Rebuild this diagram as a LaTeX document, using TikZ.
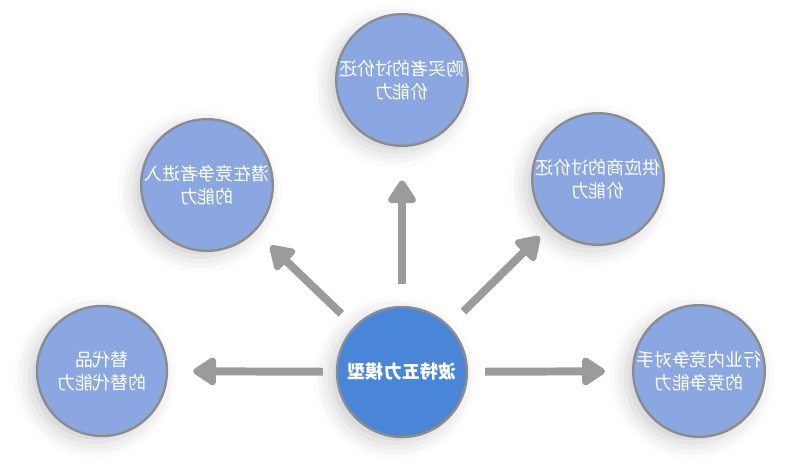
\documentclass[tikz,border=0pt]{standalone}
\usepackage{fontspec}
\newfontfamily\cjk{Noto Sans CJK SC}
\usetikzlibrary{arrows.meta, shadows.blur}

\definecolor{petal}{RGB}{139,167,226}
\definecolor{hub}{RGB}{74,134,216}
\definecolor{rim}{RGB}{140,140,140}
\definecolor{shaft}{RGB}{155,155,155}

\begin{document}
\begin{tikzpicture}[
    x=0.03cm,
    y=-0.03cm,
    force/.style={
        circle, draw=rim, line width=2pt, fill=petal,
        minimum size=3.9cm, inner sep=0pt,
        text=white, align=center, xscale=-1,
        font=\cjk\fontsize{15.3pt}{20pt}\selectfont,
        blur shadow={shadow xshift=-6pt, shadow yshift=-5pt,
                     shadow blur radius=14pt, shadow opacity=20},
    },
    model/.style={force, fill=hub, font=\cjk\bfseries\fontsize{15.5pt}{20pt}\selectfont},
    push/.style={
        draw=shaft, line width=6.8pt,
        -{Triangle[round, length=22pt, width=27pt]},
    },
]

    \useasboundingbox (0,0) rectangle (800,470);

    \node[force] (buyer)      at (402,80)  {购买者的讨价还\\价能力};
    \node[force] (entrant)    at (207,185) {潜在竞争者进入\\的能力};
    \node[force] (supplier)   at (598,179) {供应商的讨价还\\价能力};
    \node[force] (substitute) at (102,371) {替代品\\的替代能力};
    \node[force] (rival)      at (699,371) {行业内竞争对手\\的竞争能力};
    \node[model] (porter)     at (402,372) {波特五力模型};

    % five forces pushing out of the model
    \draw[push, shorten <=0.39cm, shorten >=0.75cm] (porter) -- (substitute);
    \draw[push, shorten <=0.51cm, shorten >=0.81cm] (porter) -- (rival);
    \draw[push, shorten <=0.66cm, shorten >=1.0cm]  (porter) -- (buyer);
    \draw[push, shorten <=0.54cm, shorten >=0.63cm] (porter) -- (entrant);
    \draw[push, shorten <=0.6cm,  shorten >=0.45cm] (porter) -- (supplier);
\end{tikzpicture}
\end{document}
